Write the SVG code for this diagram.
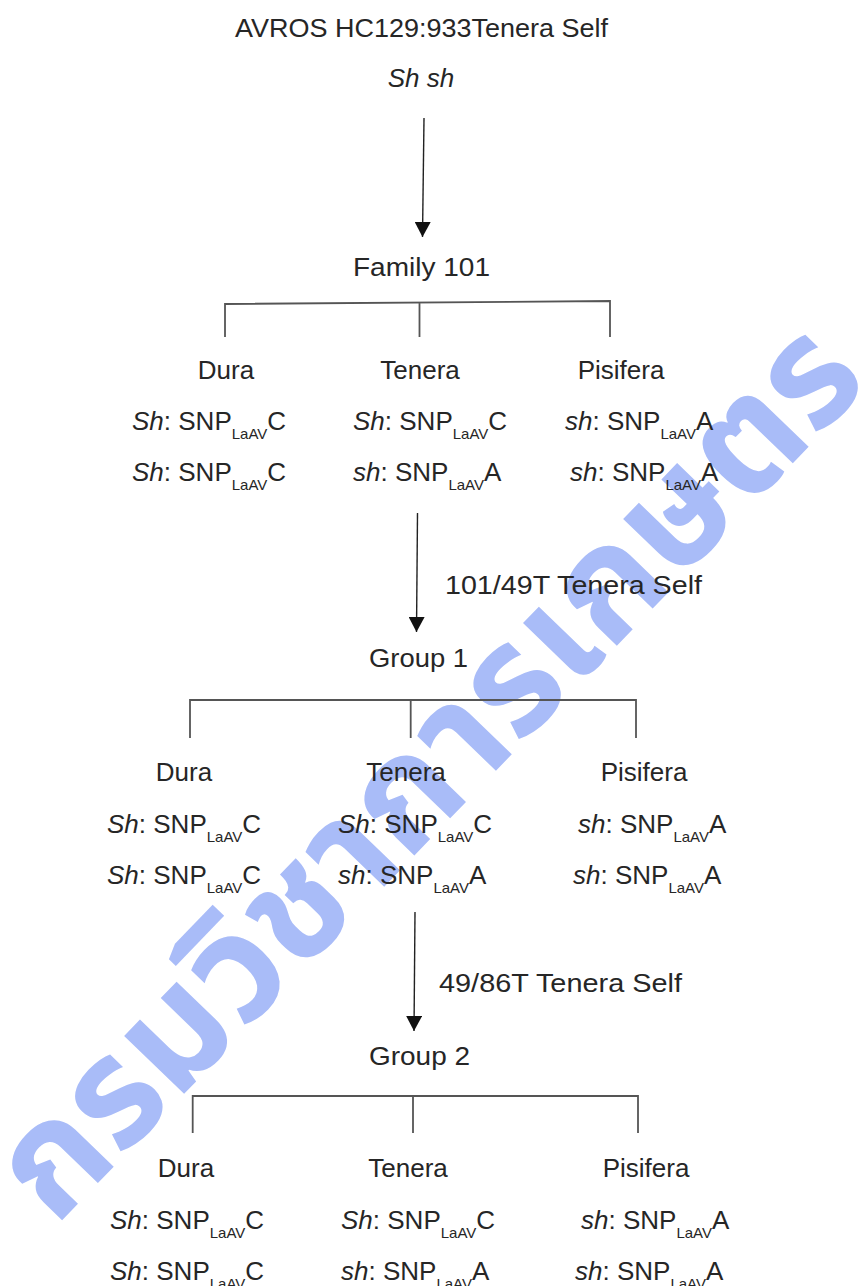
<svg xmlns="http://www.w3.org/2000/svg" width="865" height="1286" viewBox="0 0 865 1286">
<style>
  text { font-family: "Liberation Sans", Arial, sans-serif; fill: #262626; font-size: 26px; }
  .c { text-anchor: middle; }
  .i { font-style: italic; }
  .sub { font-size: 15px; }
  .wm { font-family: "Noto Sans Thai", "Noto Sans", "DejaVu Sans", sans-serif; font-size: 152px; fill: #a9bcf8; font-weight: bold; text-anchor: middle; }
  .arrow { stroke: #222; stroke-width: 1.4; fill: none; }
  .br { stroke: #555; stroke-width: 1.8; fill: none; }
</style>
<defs>
  <marker id="ah" markerUnits="userSpaceOnUse" markerWidth="16" markerHeight="16" viewBox="0 0 16 16" refX="15" refY="8" orient="auto">
    <path d="M0,0 L15,8 L0,16 Z" fill="#111"/>
  </marker>
</defs>
<rect width="865" height="1286" fill="#fff"/>
<g id="watermark">
  <text class="wm" transform="translate(463,805) rotate(-46)">กรมวิชาการเกษตร</text>
</g>
<g id="connectors">
  <line class="arrow" x1="424" y1="118" x2="422.5" y2="237" marker-end="url(#ah)"/>
  <path class="br" d="M225,337 V304 L610,301 V337 M419.5,302.5 V337"/>
  <line class="arrow" x1="417.5" y1="513" x2="416.5" y2="632" marker-end="url(#ah)"/>
  <path class="br" d="M190,738 V700 H636 V738 M410.7,700 V738"/>
  <line class="arrow" x1="415" y1="912" x2="414" y2="1031" marker-end="url(#ah)"/>
  <path class="br" d="M192.7,1133 V1096 H638 V1133 M413,1096 V1133"/>
</g>
<g id="root">
  <text class="c" x="421.5" y="37" textLength="373" lengthAdjust="spacingAndGlyphs">AVROS HC129:933Tenera Self</text>
  <text class="c i" x="421" y="87">Sh sh</text>
</g>
<g id="family101">
  <text class="c" x="421.5" y="276" textLength="137" lengthAdjust="spacingAndGlyphs">Family 101</text>
</g>
<g id="f101-dura">
  <text class="c" x="226" y="379">Dura</text>
  <text x="132" y="430"><tspan class="i">Sh</tspan>: SNP<tspan class="sub" dy="9">LaAV</tspan><tspan dy="-9">C</tspan></text>
  <text x="132" y="481"><tspan class="i">Sh</tspan>: SNP<tspan class="sub" dy="9">LaAV</tspan><tspan dy="-9">C</tspan></text>
</g>
<g id="f101-tenera">
  <text class="c" x="420" y="379">Tenera</text>
  <text x="353" y="430"><tspan class="i">Sh</tspan>: SNP<tspan class="sub" dy="9">LaAV</tspan><tspan dy="-9">C</tspan></text>
  <text x="353" y="481"><tspan class="i">sh</tspan>: SNP<tspan class="sub" dy="9">LaAV</tspan><tspan dy="-9">A</tspan></text>
</g>
<g id="f101-pisifera">
  <text class="c" x="621" y="379">Pisifera</text>
  <text x="565" y="430"><tspan class="i">sh</tspan>: SNP<tspan class="sub" dy="9">LaAV</tspan><tspan dy="-9">A</tspan></text>
  <text x="570" y="481"><tspan class="i">sh</tspan>: SNP<tspan class="sub" dy="9">LaAV</tspan><tspan dy="-9">A</tspan></text>
</g>
<g id="label-101-49T">
  <text x="445" y="594" textLength="257" lengthAdjust="spacingAndGlyphs">101/49T Tenera Self</text>
</g>
<g id="group1">
  <text class="c" x="418.5" y="667" textLength="99" lengthAdjust="spacingAndGlyphs">Group 1</text>
</g>
<g id="g1-dura">
  <text class="c" x="184" y="781">Dura</text>
  <text x="107" y="833"><tspan class="i">Sh</tspan>: SNP<tspan class="sub" dy="9">LaAV</tspan><tspan dy="-9">C</tspan></text>
  <text x="107" y="884"><tspan class="i">Sh</tspan>: SNP<tspan class="sub" dy="9">LaAV</tspan><tspan dy="-9">C</tspan></text>
</g>
<g id="g1-tenera">
  <text class="c" x="406" y="781">Tenera</text>
  <text x="338" y="833"><tspan class="i">Sh</tspan>: SNP<tspan class="sub" dy="9">LaAV</tspan><tspan dy="-9">C</tspan></text>
  <text x="338" y="884"><tspan class="i">sh</tspan>: SNP<tspan class="sub" dy="9">LaAV</tspan><tspan dy="-9">A</tspan></text>
</g>
<g id="g1-pisifera">
  <text class="c" x="644" y="781">Pisifera</text>
  <text x="578" y="833"><tspan class="i">sh</tspan>: SNP<tspan class="sub" dy="9">LaAV</tspan><tspan dy="-9">A</tspan></text>
  <text x="573" y="884"><tspan class="i">sh</tspan>: SNP<tspan class="sub" dy="9">LaAV</tspan><tspan dy="-9">A</tspan></text>
</g>
<g id="label-49-86T">
  <text x="439" y="992" textLength="243" lengthAdjust="spacingAndGlyphs">49/86T Tenera Self</text>
</g>
<g id="group2">
  <text class="c" x="419.5" y="1065" textLength="101" lengthAdjust="spacingAndGlyphs">Group 2</text>
</g>
<g id="g2-dura">
  <text class="c" x="186" y="1177">Dura</text>
  <text x="110" y="1229"><tspan class="i">Sh</tspan>: SNP<tspan class="sub" dy="9">LaAV</tspan><tspan dy="-9">C</tspan></text>
  <text x="110" y="1280"><tspan class="i">Sh</tspan>: SNP<tspan class="sub" dy="9">LaAV</tspan><tspan dy="-9">C</tspan></text>
</g>
<g id="g2-tenera">
  <text class="c" x="408" y="1177">Tenera</text>
  <text x="341" y="1229"><tspan class="i">Sh</tspan>: SNP<tspan class="sub" dy="9">LaAV</tspan><tspan dy="-9">C</tspan></text>
  <text x="341" y="1280"><tspan class="i">sh</tspan>: SNP<tspan class="sub" dy="9">LaAV</tspan><tspan dy="-9">A</tspan></text>
</g>
<g id="g2-pisifera">
  <text class="c" x="646" y="1177">Pisifera</text>
  <text x="581" y="1229"><tspan class="i">sh</tspan>: SNP<tspan class="sub" dy="9">LaAV</tspan><tspan dy="-9">A</tspan></text>
  <text x="575" y="1280"><tspan class="i">sh</tspan>: SNP<tspan class="sub" dy="9">LaAV</tspan><tspan dy="-9">A</tspan></text>
</g>
</svg>
